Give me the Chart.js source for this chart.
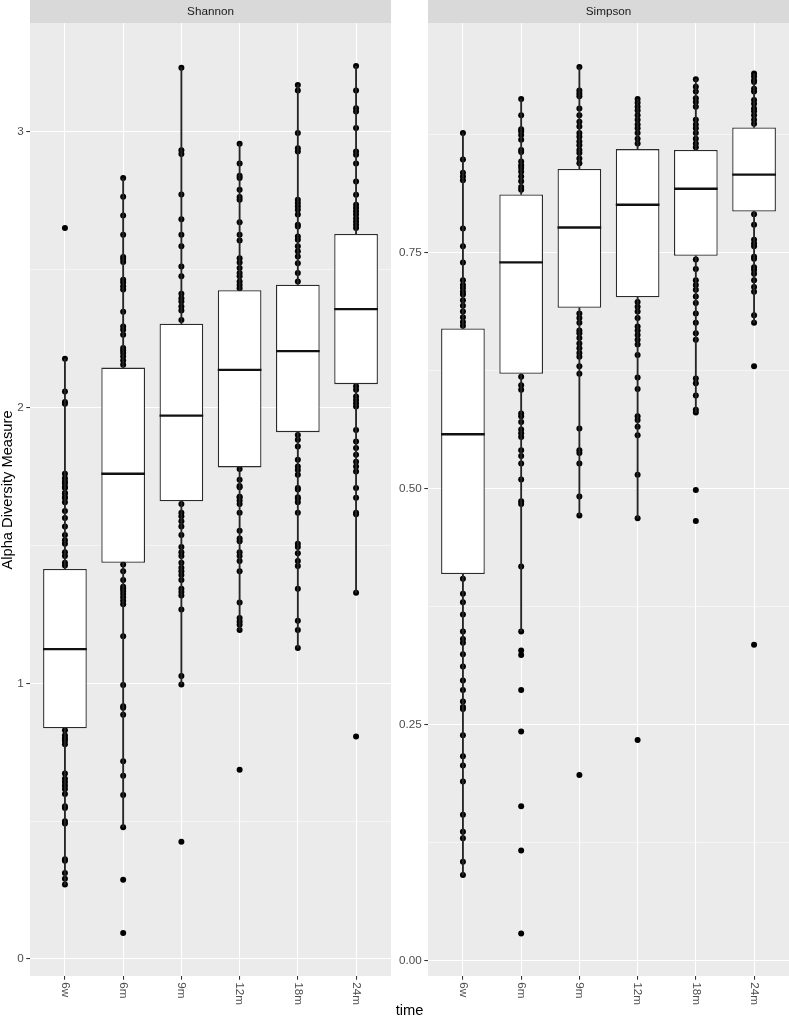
<!DOCTYPE html>
<html>
<head>
<meta charset="utf-8">
<script src="https://cdn.jsdelivr.net/npm/chart.js"></script>
<style>
  html, body { margin: 0; padding: 0; background: #FFFFFF; }
  #wrap { position: relative; width: 789px; height: 1023px; overflow: hidden; }
  canvas { position: absolute; top: 0; }
</style>
</head>
<body>
<div id="wrap">
  <canvas id="left" width="391" height="1023" style="left:0px"></canvas>
  <canvas id="right" width="398" height="1023" style="left:391px"></canvas>
</div>
<script>
// ---------- data ----------
const categories = ['6w', '6m', '9m', '12m', '18m', '24m'];
const panelTitles = ['Shannon', 'Simpson'];
const yAxisTitle = 'Alpha Diversity Measure';
const xAxisTitle = 'time';

const shannonTicks = [0, 1, 2, 3];
const shannonTickLabels = ['0', '1', '2', '3'];
const shannonMinorTicks = [0.5, 1.5, 2.5];
const simpsonTicks = [0, 0.25, 0.5, 0.75];
const simpsonTickLabels = ['0.00', '0.25', '0.50', '0.75'];
const simpsonMinorTicks = [0.125, 0.375, 0.625, 0.875];

// Shannon: visible sample points per time point
const shannon6w = [2.651, 2.177, 2.058, 2.020, 2.014, 1.760, 1.744, 1.732, 1.726, 1.713, 1.708, 1.690, 1.688, 1.675, 1.672, 1.657, 1.625, 1.600, 1.569, 1.538, 1.519, 1.506, 1.475, 1.462, 1.437, 1.427, 0.830, 0.811, 0.801, 0.792, 0.779, 0.673, 0.654, 0.642, 0.629, 0.617, 0.598, 0.554, 0.548, 0.500, 0.491, 0.362, 0.356, 0.312, 0.291, 0.270];
const shannon6m = [2.833, 2.765, 2.697, 2.627, 2.546, 2.539, 2.528, 2.464, 2.454, 2.440, 2.428, 2.348, 2.294, 2.282, 2.264, 2.216, 2.207, 2.198, 2.185, 2.171, 2.155, 1.431, 1.406, 1.375, 1.350, 1.343, 1.335, 1.324, 1.312, 1.299, 1.287, 1.171, 0.994, 0.917, 0.911, 0.886, 0.717, 0.665, 0.595, 0.478, 0.287, 0.094];
const shannon9m = [3.233, 2.933, 2.920, 2.773, 2.683, 2.627, 2.585, 2.512, 2.476, 2.413, 2.397, 2.385, 2.367, 2.352, 2.318, 1.650, 1.619, 1.606, 1.588, 1.569, 1.538, 1.494, 1.475, 1.462, 1.437, 1.419, 1.406, 1.393, 1.375, 1.343, 1.331, 1.318, 1.268, 1.026, 0.996, 0.425];
const shannon12m = [2.957, 2.885, 2.841, 2.833, 2.790, 2.764, 2.754, 2.672, 2.627, 2.606, 2.542, 2.526, 2.506, 2.488, 2.476, 2.457, 2.445, 2.433, 1.777, 1.738, 1.716, 1.711, 1.677, 1.675, 1.663, 1.650, 1.619, 1.553, 1.525, 1.515, 1.475, 1.462, 1.444, 1.406, 1.293, 1.237, 1.224, 1.212, 1.193, 0.686];
const shannon18m = [3.170, 3.150, 2.996, 2.941, 2.929, 2.754, 2.742, 2.730, 2.718, 2.700, 2.663, 2.657, 2.621, 2.609, 2.585, 2.567, 2.548, 2.524, 2.488, 2.457, 1.901, 1.883, 1.859, 1.811, 1.786, 1.774, 1.756, 1.708, 1.703, 1.675, 1.669, 1.657, 1.619, 1.506, 1.494, 1.472, 1.444, 1.425, 1.343, 1.227, 1.193, 1.128];
const shannon24m = [3.239, 3.150, 3.086, 3.074, 3.014, 2.929, 2.917, 2.885, 2.820, 2.772, 2.736, 2.724, 2.712, 2.700, 2.687, 2.675, 2.663, 2.651, 2.077, 2.065, 2.040, 2.028, 2.016, 2.004, 1.919, 1.877, 1.853, 1.829, 1.804, 1.786, 1.768, 1.708, 1.673, 1.619, 1.613, 1.328, 0.807];

// Shannon box statistics
const shannonQ1 = [0.837, 1.437, 1.660, 1.783, 1.911, 2.085];
const shannonMedian = [1.124, 1.760, 1.971, 2.137, 2.205, 2.357];
const shannonQ3 = [1.415, 2.145, 2.304, 2.426, 2.446, 2.630];
const shannonWhiskerLow = [0.270, 0.478, 0.996, 1.193, 1.128, 1.328];
const shannonWhiskerHigh = [2.177, 2.833, 3.233, 2.957, 3.170, 3.239];

// Simpson: visible sample points per time point
const simpson6w = [0.877, 0.849, 0.835, 0.831, 0.827, 0.776, 0.757, 0.740, 0.721, 0.716, 0.713, 0.709, 0.706, 0.700, 0.694, 0.688, 0.682, 0.677, 0.673, 0.405, 0.389, 0.380, 0.367, 0.349, 0.341, 0.337, 0.325, 0.312, 0.297, 0.287, 0.275, 0.269, 0.267, 0.239, 0.217, 0.207, 0.190, 0.155, 0.137, 0.130, 0.105, 0.091];
const simpson6m = [0.913, 0.896, 0.881, 0.879, 0.875, 0.870, 0.859, 0.857, 0.847, 0.843, 0.840, 0.836, 0.831, 0.826, 0.820, 0.817, 0.619, 0.610, 0.605, 0.580, 0.577, 0.571, 0.563, 0.559, 0.555, 0.541, 0.535, 0.527, 0.510, 0.487, 0.484, 0.418, 0.349, 0.329, 0.324, 0.287, 0.243, 0.164, 0.117, 0.029];
const simpson9m = [0.947, 0.922, 0.919, 0.916, 0.903, 0.896, 0.889, 0.884, 0.877, 0.873, 0.868, 0.864, 0.859, 0.856, 0.850, 0.845, 0.686, 0.681, 0.676, 0.668, 0.665, 0.660, 0.654, 0.649, 0.644, 0.640, 0.630, 0.622, 0.564, 0.541, 0.538, 0.527, 0.492, 0.472, 0.197];
const simpson12m = [0.913, 0.909, 0.905, 0.901, 0.896, 0.891, 0.886, 0.882, 0.877, 0.871, 0.866, 0.698, 0.693, 0.688, 0.681, 0.672, 0.668, 0.663, 0.658, 0.653, 0.642, 0.618, 0.606, 0.577, 0.573, 0.566, 0.557, 0.515, 0.469, 0.234];
const simpson18m = [0.934, 0.926, 0.921, 0.914, 0.910, 0.905, 0.891, 0.886, 0.882, 0.877, 0.871, 0.866, 0.862, 0.743, 0.733, 0.721, 0.716, 0.711, 0.704, 0.697, 0.686, 0.676, 0.665, 0.658, 0.617, 0.612, 0.599, 0.584, 0.581, 0.499, 0.466];
const simpson24m = [0.940, 0.937, 0.933, 0.931, 0.924, 0.921, 0.912, 0.908, 0.903, 0.900, 0.896, 0.891, 0.887, 0.791, 0.780, 0.764, 0.760, 0.757, 0.746, 0.744, 0.735, 0.732, 0.728, 0.721, 0.714, 0.709, 0.684, 0.676, 0.630, 0.335];

// Simpson box statistics
const simpsonQ1 = [0.410, 0.622, 0.692, 0.703, 0.747, 0.794];
const simpsonMedian = [0.558, 0.740, 0.777, 0.801, 0.818, 0.833];
const simpsonQ3 = [0.670, 0.812, 0.839, 0.860, 0.859, 0.883];
const simpsonWhiskerLow = [0.091, 0.349, 0.472, 0.469, 0.581, 0.676];
const simpsonWhiskerHigh = [0.877, 0.913, 0.947, 0.913, 0.934, 0.940];

// ---------- drawing ----------
const FONT = '"Liberation Sans", Arial, Helvetica, sans-serif';
const STRIP_H = 23;
const PANEL_BOTTOM = 976;
const H = 1023;

function makePanel(canvasId, opts) {
  const groups = opts.groups;
  const pointData = [];
  groups.forEach((arr, i) => arr.forEach(v => pointData.push({ x: i, y: v })));
  const whiskerData = [];
  categories.forEach((c, i) => {
    whiskerData.push({ x: i, y: [opts.wLow[i], opts.q1[i]] });
    whiskerData.push({ x: i, y: [opts.q3[i], opts.wHigh[i]] });
  });
  const boxData = categories.map((c, i) => ({ x: i, y: [opts.q1[i], opts.q3[i]] }));
  const medianData = categories.map((c, i) => ({ x: i, y: opts.median[i] }));

  const allYTicks = opts.majorTicks.concat(opts.minorTicks).sort((a, b) => a - b);
  const isMajor = v => opts.majorTicks.some(m => Math.abs(m - v) < 1e-9);
  const labelFor = v => {
    const idx = opts.majorTicks.findIndex(m => Math.abs(m - v) < 1e-9);
    return idx >= 0 ? opts.tickLabels[idx] : '';
  };
  const halfBox = (c) => {
    const s = c.chart.scales.x;
    return s.getPixelForValue(0.375) - s.getPixelForValue(0);
  };

  const panelPlugin = {
    id: 'panel_' + canvasId,
    beforeDraw(chart) {
      const ctx = chart.ctx;
      const a = chart.chartArea;
      ctx.save();
      ctx.fillStyle = '#FFFFFF';
      ctx.fillRect(0, 0, chart.width, chart.height);
      ctx.fillStyle = '#EBEBEB';
      ctx.fillRect(a.left, a.top, a.right - a.left, a.bottom - a.top);
      ctx.fillStyle = '#D9D9D9';
      ctx.fillRect(a.left, 0, a.right - a.left, STRIP_H);
      ctx.fillStyle = '#1A1A1A';
      ctx.font = '11.7px ' + FONT;
      ctx.textAlign = 'center';
      ctx.textBaseline = 'middle';
      ctx.fillText(opts.title, (a.left + a.right) / 2, STRIP_H / 2 + 0.5);
      ctx.restore();
    },
    afterDraw(chart) {
      const ctx = chart.ctx;
      const a = chart.chartArea;
      const xs = chart.scales.x;
      ctx.save();
      ctx.fillStyle = '#4D4D4D';
      ctx.font = '11.7px ' + FONT;
      ctx.textAlign = 'left';
      ctx.textBaseline = 'middle';
      categories.forEach((c, i) => {
        const px = xs.getPixelForValue(i);
        ctx.save();
        ctx.translate(px, a.bottom + 3.7 + 2.6);
        ctx.rotate(Math.PI / 2);
        ctx.fillText(c, 0, 0);
        ctx.restore();
      });
      if (opts.drawYTitle) {
        ctx.save();
        ctx.fillStyle = '#000000';
        ctx.font = '14.7px ' + FONT;
        ctx.textAlign = 'center';
        ctx.textBaseline = 'middle';
        ctx.translate(8, 490);
        ctx.rotate(-Math.PI / 2);
        ctx.fillText(yAxisTitle, 0, 0);
        ctx.restore();
      }
      if (opts.drawXTitle) {
        ctx.fillStyle = '#000000';
        ctx.font = '14.7px ' + FONT;
        ctx.textAlign = 'center';
        ctx.textBaseline = 'middle';
        ctx.fillText(xAxisTitle, opts.xTitleX, 1011);
      }
      ctx.restore();
    }
  };

  return new Chart(document.getElementById(canvasId), {
    type: 'bar',
    data: {
      datasets: [
        {
          type: 'scatter',
          data: pointData,
          pointRadius: 3,
          pointHoverRadius: 3,
          pointBorderWidth: 0,
          pointBackgroundColor: '#000000',
          backgroundColor: '#000000',
          borderColor: '#000000',
          order: 4
        },
        {
          type: 'bar',
          data: whiskerData,
          backgroundColor: '#262626',
          borderWidth: 0,
          barThickness: 1.2,
          grouped: false,
          order: 3
        },
        {
          type: 'bar',
          data: boxData,
          backgroundColor: '#FFFFFF',
          borderColor: '#2B2B2B',
          borderWidth: 1.3,
          borderSkipped: false,
          barPercentage: 0.75,
          categoryPercentage: 1,
          grouped: false,
          order: 2
        },
        {
          type: 'scatter',
          data: medianData,
          pointStyle: 'line',
          pointRadius: halfBox,
          pointHoverRadius: halfBox,
          pointBorderWidth: 2.4,
          pointBorderColor: '#111111',
          borderColor: '#111111',
          order: 1
        }
      ]
    },
    options: {
      responsive: false,
      animation: false,
      devicePixelRatio: 1,
      events: [],
      layout: { autoPadding: false, padding: { top: STRIP_H, left: 0, right: 0, bottom: 0 } },
      plugins: { legend: { display: false }, tooltip: { enabled: false } },
      scales: {
        x: {
          type: 'linear',
          position: 'bottom',
          min: -0.6,
          max: 5.6,
          offset: false,
          afterBuildTicks: (s) => { s.ticks = categories.map((c, i) => ({ value: i })); },
          afterFit: (s) => { s.height = H - PANEL_BOTTOM; },
          ticks: { display: false },
          grid: {
            offset: false,
            color: '#FFFFFF',
            lineWidth: 1.07,
            tickColor: '#333333',
            tickWidth: 1.07,
            tickLength: 3.7,
            drawTicks: true
          },
          border: { display: false }
        },
        y: {
          type: 'linear',
          position: 'left',
          min: opts.yMin,
          max: opts.yMax,
          afterBuildTicks: (s) => { s.ticks = allYTicks.map(v => ({ value: v })); },
          afterFit: (s) => { s.width = opts.yAxisWidth; },
          ticks: {
            callback: (v) => labelFor(v),
            color: '#4D4D4D',
            font: { family: FONT, size: 11.7 },
            padding: 2.6,
            autoSkip: false
          },
          grid: {
            offset: false,
            color: '#FFFFFF',
            lineWidth: (c) => (c.tick && isMajor(c.tick.value)) ? 1.07 : 0.53,
            tickColor: (c) => (c.tick && isMajor(c.tick.value)) ? '#333333' : 'rgba(0,0,0,0)',
            tickWidth: 1.07,
            tickLength: 3.7,
            drawTicks: true
          },
          border: { display: false }
        }
      }
    },
    plugins: [panelPlugin]
  });
}

makePanel('left', {
  title: panelTitles[0],
  groups: [shannon6w, shannon6m, shannon9m, shannon12m, shannon18m, shannon24m],
  q1: shannonQ1, median: shannonMedian, q3: shannonQ3,
  wLow: shannonWhiskerLow, wHigh: shannonWhiskerHigh,
  majorTicks: shannonTicks, tickLabels: shannonTickLabels, minorTicks: shannonMinorTicks,
  yMin: -0.0617, yMax: 3.395,
  yAxisWidth: 30,
  drawYTitle: true, drawXTitle: false
});

makePanel('right', {
  title: panelTitles[1],
  groups: [simpson6w, simpson6m, simpson9m, simpson12m, simpson18m, simpson24m],
  q1: simpsonQ1, median: simpsonMedian, q3: simpsonQ3,
  wLow: simpsonWhiskerLow, wHigh: simpsonWhiskerHigh,
  majorTicks: simpsonTicks, tickLabels: simpsonTickLabels, minorTicks: simpsonMinorTicks,
  yMin: -0.0159, yMax: 0.9936,
  yAxisWidth: 37,
  drawYTitle: false, drawXTitle: true, xTitleX: 409.5 - 391
});
</script>
</body>
</html>
